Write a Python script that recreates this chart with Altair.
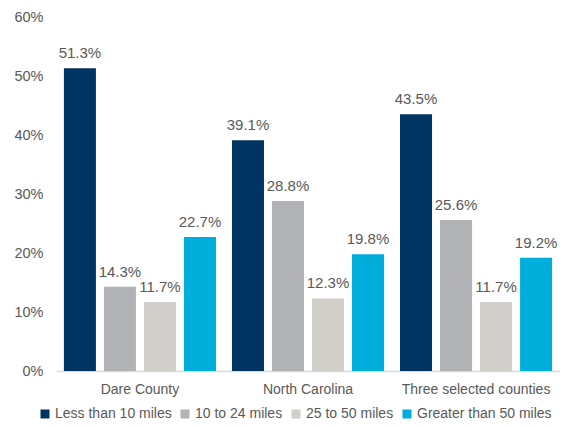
import altair as alt
import pandas as pd

groups = ["Dare County", "North Carolina", "Three selected counties"]
series = ["Less than 10 miles", "10 to 24 miles", "25 to 50 miles", "Greater than 50 miles"]
colors = ["#003462", "#B1B3B6", "#D2CFCA", "#00AEDB"]
values = {
    "Dare County": [0.513, 0.143, 0.117, 0.227],
    "North Carolina": [0.391, 0.288, 0.123, 0.198],
    "Three selected counties": [0.435, 0.256, 0.117, 0.192],
}

rows = []
for g in groups:
    for i, s in enumerate(series):
        rows.append({"group": g, "series": s, "order": i, "value": values[g][i]})
df = pd.DataFrame(rows)

FONT = "Liberation Sans"
GRAY = "#595959"

base = alt.Chart(df).encode(
    x=alt.X("group:N", sort=groups, title=None,
            scale=alt.Scale(paddingInner=0.095, paddingOuter=0.047),
            axis=alt.Axis(labelAngle=0, ticks=False, domainColor="#D9D9D9", domainWidth=1.5,
                          labelFontSize=14, labelColor=GRAY, labelFont=FONT, labelPadding=11)),
    xOffset=alt.XOffset("series:N", sort=series,
                        scale=alt.Scale(paddingInner=0.2, paddingOuter=0)),
    y=alt.Y("value:Q", title=None,
            scale=alt.Scale(domain=[0, 0.6]),
            axis=alt.Axis(format=".0%", values=[0, 0.1, 0.2, 0.3, 0.4, 0.5, 0.6], grid=False,
                          domain=False, ticks=False, labelFontSize=14.5, labelColor=GRAY,
                          labelFont=FONT, labelPadding=13)),
)

bars = base.mark_bar().encode(
    color=alt.Color("series:N", sort=series,
                    scale=alt.Scale(domain=series, range=colors),
                    legend=alt.Legend(title=None, orient="none", legendX=-18, legendY=390,
                                      direction="horizontal",
                                      symbolType="square", symbolSize=81, symbolStrokeWidth=0,
                                      labelFontSize=14, labelColor=GRAY, labelFont=FONT,
                                      columnPadding=6, symbolOffset=0, labelOffset=3,
                                      padding=0)),
)

labels = base.mark_text(baseline="bottom", dy=-7, fontSize=15, color=GRAY, font=FONT).encode(
    text=alt.Text("value:Q", format=".1%"),
)

chart = (bars + labels).properties(
    width=504, height=354, padding={"left": 5, "top": 1, "right": 0, "bottom": 0}
).configure_view(stroke=None)

chart.save("out.html", embed_options={"renderer": "svg", "actions": False})
